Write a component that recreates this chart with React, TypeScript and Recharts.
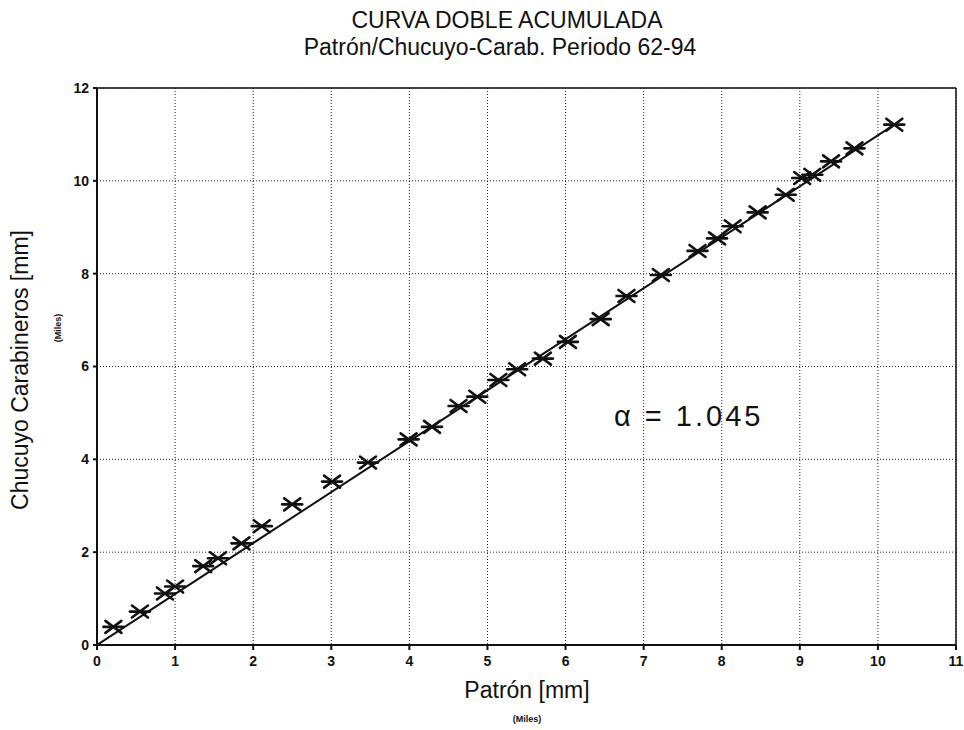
import React from 'react';
import {
  ScatterChart,
  Scatter,
  XAxis,
  YAxis,
  CartesianGrid,
  ReferenceLine,
  Label,
} from 'recharts';

// accumulated values, thousands of mm
const patron = [
  0.21, 0.55, 0.87, 1.0, 1.36, 1.55, 1.85, 2.11, 2.5, 3.01, 3.47, 3.99, 4.29,
  4.63, 4.87, 5.14, 5.38, 5.71, 6.03, 6.45, 6.78, 7.22, 7.69, 7.94, 8.14, 8.46,
  8.82, 9.03, 9.16, 9.4, 9.7, 10.21,
];
const chucuyo = [
  0.39, 0.72, 1.11, 1.26, 1.7, 1.87, 2.19, 2.56, 3.03, 3.52, 3.93, 4.43, 4.7,
  5.15, 5.35, 5.71, 5.94, 6.17, 6.53, 7.02, 7.52, 7.97, 8.49, 8.76, 9.02, 9.32,
  9.7, 10.06, 10.13, 10.42, 10.7, 11.21,
];
// straight line drawn on the chart
const fitX = [0, 10.21];
const fitY = [0, 11.21];

const xTicks = [0, 1, 2, 3, 4, 5, 6, 7, 8, 9, 10, 11];
const yTicks = [0, 2, 4, 6, 8, 10, 12];

const points = patron.map((x, i) => ({ x, y: chucuyo[i] }));
const fit = fitX.map((x, i) => ({ x, y: fitY[i] }));

const font = '"Liberation Sans", Arial, sans-serif';

const Star = (props: any) => {
  const { cx, cy } = props;
  return (
    <g stroke="#111" strokeWidth={2.6} fill="none" strokeLinecap="round">
      <line x1={cx - 10} y1={cy} x2={cx + 10} y2={cy} />
      <line x1={cx - 8} y1={cy - 6} x2={cx + 8} y2={cy + 6} />
      <line x1={cx - 8} y1={cy + 6} x2={cx + 8} y2={cy - 6} />
    </g>
  );
};

const XTick = (p: any) => (
  <text x={p.x} y={p.y} dy="0.71em" textAnchor="middle" fontFamily={font} fontSize={14} fontWeight={700} fill="#111">
    {p.payload.value}
  </text>
);

const YTick = (p: any) => (
  <text x={p.x} y={p.y} dy="0.355em" textAnchor="end" fontFamily={font} fontSize={14} fontWeight={700} fill="#111">
    {p.payload.value}
  </text>
);

export default function App() {
  return (
    <div style={{ position: 'absolute', left: 0, top: 0, width: 964, height: 730, background: '#fff' }}>
      <ScatterChart width={964} height={730} margin={{ top: 88, right: 8, bottom: 0, left: 0 }}>
        <CartesianGrid stroke="#222" strokeDasharray="1 2" />
        <XAxis
          type="number"
          dataKey="x"
          domain={[0, 11]}
          ticks={xTicks}
          height={85}
          tickSize={5}
          tickMargin={6}
          stroke="#111"
          strokeWidth={2}
          tick={<XTick />}
          allowDataOverflow
        >
          <Label
            content={() => (
              <g fontFamily={font} fill="#111" textAnchor="middle">
                <text x={527} y={698} fontSize={23}>Patrón [mm]</text>
                <text x={527} y={722} fontSize={9} fontWeight={700}>(Miles)</text>
              </g>
            )}
          />
        </XAxis>
        <YAxis
          type="number"
          dataKey="y"
          domain={[0, 12]}
          ticks={yTicks}
          width={97}
          tickSize={4}
          tickMargin={4}
          stroke="#111"
          strokeWidth={2}
          tick={<YTick />}
          allowDataOverflow
        >
          <Label
            content={() => (
              <g fontFamily={font} fill="#111" textAnchor="middle">
                <text x={28} y={370} fontSize={23} transform="rotate(-90 28 370)">
                  Chucuyo Carabineros [mm]
                </text>
                <text x={61} y={328} fontSize={9} fontWeight={700} transform="rotate(-90 61 328)">
                  (Miles)
                </text>
              </g>
            )}
          />
        </YAxis>
        <ReferenceLine y={12} stroke="#111" strokeWidth={1.5} />
        <ReferenceLine x={11} stroke="#111" strokeWidth={1.5} />
        <Scatter
          data={fit}
          line={{ stroke: '#111', strokeWidth: 2 }}
          shape={() => <g />}
          isAnimationActive={false}
        />
        <Scatter data={points} shape={<Star />} isAnimationActive={false} />
      </ScatterChart>
      <svg
        width={964}
        height={730}
        style={{ position: 'absolute', left: 0, top: 0, pointerEvents: 'none' }}
      >
        <g fontFamily={font} fill="#111" textAnchor="middle" fontSize={23}>
          <text x={507} y={28}>CURVA DOBLE ACUMULADA</text>
          <text x={500} y={55}>Patrón/Chucuyo-Carab. Periodo 62-94</text>
        </g>
        <text x={614} y={426} fontFamily={font} fontSize={29} letterSpacing={3} fill="#111">
          α = 1.045
        </text>
      </svg>
    </div>
  );
}
